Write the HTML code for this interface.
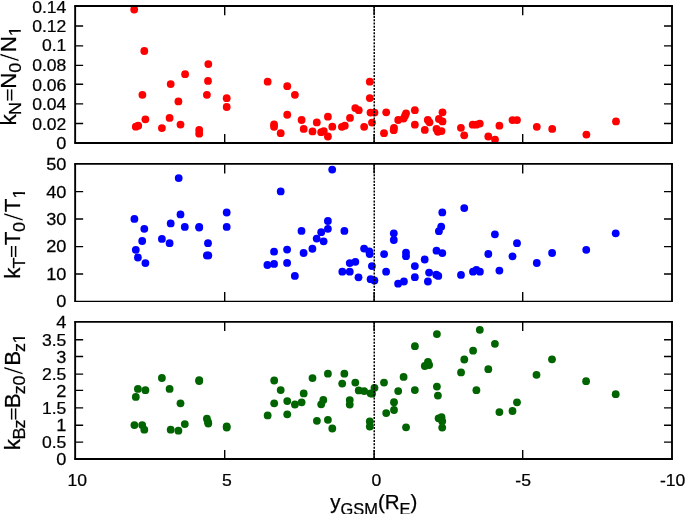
<!DOCTYPE html>
<html><head><meta charset="utf-8"><title>plot</title>
<style>
html,body{margin:0;padding:0;background:#fff;}
body{width:685px;height:514px;overflow:hidden;}
svg{display:block;}
text{font-family:"Liberation Sans",sans-serif;fill:#000;stroke:#000;stroke-width:0.25px;}
</style></head><body>
<svg width="685" height="514" viewBox="0 0 685 514">
<rect width="685" height="514" fill="#fff"/>
<defs><clipPath id="one"><rect x="0" y="-13.76" width="10.32" height="11.24"/><rect x="4.17" y="-2.60" width="1.82" height="2.77"/></clipPath></defs>
<g>
<g fill="#ff0000"><circle cx="134.20" cy="9.50" r="3.90"/><circle cx="144.30" cy="51.00" r="3.90"/><circle cx="208.30" cy="64.10" r="3.90"/><circle cx="185.10" cy="74.20" r="3.90"/><circle cx="208.00" cy="80.90" r="3.90"/><circle cx="170.70" cy="84.10" r="3.90"/><circle cx="142.40" cy="94.80" r="3.90"/><circle cx="206.90" cy="94.80" r="3.90"/><circle cx="226.70" cy="98.20" r="3.90"/><circle cx="178.40" cy="101.40" r="3.90"/><circle cx="226.70" cy="107.00" r="3.90"/><circle cx="145.40" cy="119.30" r="3.90"/><circle cx="169.60" cy="117.90" r="3.90"/><circle cx="180.50" cy="124.60" r="3.90"/><circle cx="161.90" cy="128.10" r="3.90"/><circle cx="135.80" cy="126.70" r="3.90"/><circle cx="138.20" cy="125.70" r="3.90"/><circle cx="199.20" cy="129.90" r="3.90"/><circle cx="199.20" cy="133.70" r="3.90"/><circle cx="267.65" cy="81.65" r="3.90"/><circle cx="287.25" cy="86.20" r="3.90"/><circle cx="294.90" cy="94.85" r="3.90"/><circle cx="287.25" cy="114.75" r="3.90"/><circle cx="274.05" cy="124.40" r="3.90"/><circle cx="274.05" cy="126.80" r="3.90"/><circle cx="280.70" cy="133.20" r="3.90"/><circle cx="301.60" cy="120.00" r="3.90"/><circle cx="303.70" cy="128.95" r="3.90"/><circle cx="312.50" cy="131.40" r="3.90"/><circle cx="316.80" cy="122.40" r="3.90"/><circle cx="327.90" cy="116.70" r="3.90"/><circle cx="321.20" cy="132.20" r="3.90"/><circle cx="323.80" cy="131.10" r="3.90"/><circle cx="327.90" cy="136.50" r="3.90"/><circle cx="332.30" cy="126.70" r="3.90"/><circle cx="341.90" cy="126.80" r="3.90"/><circle cx="344.80" cy="125.70" r="3.90"/><circle cx="350.00" cy="117.90" r="3.90"/><circle cx="355.30" cy="108.10" r="3.90"/><circle cx="358.75" cy="110.20" r="3.90"/><circle cx="364.15" cy="126.80" r="3.90"/><circle cx="369.80" cy="81.65" r="3.90"/><circle cx="369.80" cy="98.10" r="3.90"/><circle cx="370.50" cy="112.60" r="3.90"/><circle cx="374.50" cy="112.60" r="3.90"/><circle cx="372.00" cy="122.60" r="3.90"/><circle cx="386.20" cy="112.30" r="3.90"/><circle cx="384.00" cy="133.20" r="3.90"/><circle cx="394.00" cy="127.80" r="3.90"/><circle cx="393.70" cy="130.20" r="3.90"/><circle cx="398.20" cy="120.00" r="3.90"/><circle cx="406.05" cy="113.30" r="3.90"/><circle cx="405.05" cy="115.70" r="3.90"/><circle cx="403.60" cy="118.60" r="3.90"/><circle cx="414.85" cy="110.20" r="3.90"/><circle cx="414.85" cy="124.70" r="3.90"/><circle cx="427.80" cy="120.00" r="3.90"/><circle cx="429.50" cy="122.30" r="3.90"/><circle cx="424.80" cy="129.90" r="3.90"/><circle cx="442.50" cy="112.30" r="3.90"/><circle cx="438.90" cy="119.00" r="3.90"/><circle cx="442.50" cy="121.40" r="3.90"/><circle cx="436.50" cy="128.90" r="3.90"/><circle cx="437.90" cy="131.80" r="3.90"/><circle cx="441.50" cy="131.10" r="3.90"/><circle cx="460.90" cy="127.80" r="3.90"/><circle cx="464.20" cy="135.30" r="3.90"/><circle cx="472.70" cy="124.70" r="3.90"/><circle cx="476.30" cy="124.70" r="3.90"/><circle cx="479.80" cy="123.55" r="3.90"/><circle cx="488.30" cy="136.50" r="3.90"/><circle cx="495.00" cy="139.60" r="3.90"/><circle cx="499.40" cy="125.70" r="3.90"/><circle cx="512.50" cy="120.10" r="3.90"/><circle cx="517.00" cy="120.10" r="3.90"/><circle cx="536.80" cy="126.80" r="3.90"/><circle cx="552.20" cy="128.95" r="3.90"/><circle cx="586.40" cy="134.60" r="3.90"/><circle cx="616.00" cy="121.40" r="3.90"/></g>
<line x1="374.25" y1="6.05" x2="374.25" y2="143.10" stroke="#000" stroke-width="1.5" stroke-dasharray="2 1.28"/>
<path d="M75.15 123.50h8.0M672.00 123.50h-8.0M75.15 103.90h8.0M672.00 103.90h-8.0M75.15 84.30h8.0M672.00 84.30h-8.0M75.15 65.40h8.0M672.00 65.40h-8.0M75.15 45.85h8.0M672.00 45.85h-8.0M75.15 26.00h8.0M672.00 26.00h-8.0M224.70 6.05v9.1M224.70 143.10v-9.1M374.10 6.05v9.1M374.10 143.10v-9.1M522.70 6.05v9.1M522.70 143.10v-9.1" stroke="#000" stroke-width="1.40" fill="none"/>
<g stroke="#000" fill="none"><line x1="74.20" y1="5.95" x2="672.95" y2="5.95" stroke-width="1.90"/><line x1="74.20" y1="142.95" x2="672.95" y2="142.95" stroke-width="2.00"/><line x1="75.15" y1="5.95" x2="75.15" y2="142.95" stroke-width="1.9"/><line x1="672.00" y1="5.95" x2="672.00" y2="142.95" stroke-width="1.9"/><line x1="75.15" y1="143.45" x2="672.00" y2="143.45" stroke-width="1.3" stroke-dasharray="1.6 1.6"/></g>
<text transform="translate(66.4 149.25) scale(1.058 1)" font-size="17.2" text-anchor="end">0</text><text transform="translate(66.4 129.90) scale(1.023 1)" font-size="17.2" text-anchor="end">0.02</text><text transform="translate(66.4 110.40) scale(1.023 1)" font-size="17.2" text-anchor="end">0.04</text><text transform="translate(66.4 90.50) scale(1.023 1)" font-size="17.2" text-anchor="end">0.06</text><text transform="translate(66.4 70.60) scale(1.023 1)" font-size="17.2" text-anchor="end">0.08</text><text transform="translate(66.4 51.45) scale(1.023 1)" font-size="17.2" text-anchor="end">0.1</text><text transform="translate(66.4 31.90) scale(1.023 1)" font-size="17.2" text-anchor="end">0.12</text><text transform="translate(66.4 12.75) scale(1.023 1)" font-size="17.2" text-anchor="end">0.14</text>
</g>
<g>
<g fill="#0000ff"><circle cx="178.70" cy="178.10" r="3.90"/><circle cx="134.40" cy="218.90" r="3.90"/><circle cx="144.30" cy="228.80" r="3.90"/><circle cx="142.20" cy="241.00" r="3.90"/><circle cx="135.80" cy="249.80" r="3.90"/><circle cx="137.90" cy="257.50" r="3.90"/><circle cx="145.40" cy="263.10" r="3.90"/><circle cx="161.90" cy="238.90" r="3.90"/><circle cx="169.60" cy="243.20" r="3.90"/><circle cx="170.70" cy="223.40" r="3.90"/><circle cx="180.50" cy="214.40" r="3.90"/><circle cx="184.80" cy="226.90" r="3.90"/><circle cx="199.20" cy="226.80" r="3.90"/><circle cx="199.20" cy="227.60" r="3.90"/><circle cx="208.00" cy="243.20" r="3.90"/><circle cx="206.90" cy="255.40" r="3.90"/><circle cx="208.30" cy="255.40" r="3.90"/><circle cx="226.70" cy="212.50" r="3.90"/><circle cx="226.70" cy="226.90" r="3.90"/><circle cx="332.20" cy="169.60" r="3.90"/><circle cx="280.70" cy="191.45" r="3.90"/><circle cx="327.90" cy="221.00" r="3.90"/><circle cx="327.90" cy="228.80" r="3.90"/><circle cx="321.20" cy="232.20" r="3.90"/><circle cx="301.50" cy="230.90" r="3.90"/><circle cx="344.40" cy="230.90" r="3.90"/><circle cx="316.70" cy="238.60" r="3.90"/><circle cx="323.60" cy="241.30" r="3.90"/><circle cx="312.40" cy="248.75" r="3.90"/><circle cx="303.60" cy="253.00" r="3.90"/><circle cx="287.10" cy="249.55" r="3.90"/><circle cx="274.05" cy="251.70" r="3.90"/><circle cx="287.10" cy="262.90" r="3.90"/><circle cx="274.05" cy="263.90" r="3.90"/><circle cx="267.40" cy="265.00" r="3.90"/><circle cx="294.85" cy="275.90" r="3.90"/><circle cx="342.30" cy="271.70" r="3.90"/><circle cx="349.75" cy="271.70" r="3.90"/><circle cx="349.75" cy="263.10" r="3.90"/><circle cx="355.35" cy="261.80" r="3.90"/><circle cx="358.50" cy="277.30" r="3.90"/><circle cx="364.10" cy="248.60" r="3.90"/><circle cx="369.30" cy="251.40" r="3.90"/><circle cx="369.70" cy="254.10" r="3.90"/><circle cx="371.90" cy="266.10" r="3.90"/><circle cx="370.60" cy="279.20" r="3.90"/><circle cx="374.40" cy="280.50" r="3.90"/><circle cx="384.10" cy="254.10" r="3.90"/><circle cx="386.10" cy="271.70" r="3.90"/><circle cx="393.80" cy="233.30" r="3.90"/><circle cx="393.80" cy="240.00" r="3.90"/><circle cx="406.00" cy="252.60" r="3.90"/><circle cx="406.00" cy="256.20" r="3.90"/><circle cx="398.10" cy="283.70" r="3.90"/><circle cx="403.90" cy="281.50" r="3.90"/><circle cx="414.85" cy="266.10" r="3.90"/><circle cx="414.85" cy="277.20" r="3.90"/><circle cx="424.70" cy="259.50" r="3.90"/><circle cx="429.10" cy="272.60" r="3.90"/><circle cx="427.90" cy="281.50" r="3.90"/><circle cx="436.50" cy="250.70" r="3.90"/><circle cx="442.30" cy="253.10" r="3.90"/><circle cx="436.30" cy="274.70" r="3.90"/><circle cx="438.30" cy="275.90" r="3.90"/><circle cx="442.30" cy="212.40" r="3.90"/><circle cx="441.20" cy="226.70" r="3.90"/><circle cx="438.90" cy="231.20" r="3.90"/><circle cx="464.25" cy="208.05" r="3.90"/><circle cx="461.00" cy="274.90" r="3.90"/><circle cx="473.00" cy="271.70" r="3.90"/><circle cx="476.40" cy="269.80" r="3.90"/><circle cx="479.90" cy="271.70" r="3.90"/><circle cx="488.30" cy="254.00" r="3.90"/><circle cx="494.90" cy="234.35" r="3.90"/><circle cx="499.40" cy="270.60" r="3.90"/><circle cx="512.50" cy="256.30" r="3.90"/><circle cx="517.00" cy="243.20" r="3.90"/><circle cx="536.80" cy="263.00" r="3.90"/><circle cx="552.10" cy="253.00" r="3.90"/><circle cx="586.25" cy="249.80" r="3.90"/><circle cx="615.70" cy="233.30" r="3.90"/></g>
<line x1="374.25" y1="164.30" x2="374.25" y2="301.00" stroke="#000" stroke-width="1.5" stroke-dasharray="2 1.28"/>
<path d="M75.15 273.95h8.0M672.00 273.95h-8.0M75.15 246.60h8.0M672.00 246.60h-8.0M75.15 218.98h8.0M672.00 218.98h-8.0M75.15 191.64h8.0M672.00 191.64h-8.0M224.70 164.30v9.1M224.70 301.00v-9.1M374.10 164.30v9.1M374.10 301.00v-9.1M522.70 164.30v9.1M522.70 301.00v-9.1" stroke="#000" stroke-width="1.40" fill="none"/>
<g stroke="#000" fill="none"><line x1="74.20" y1="163.97" x2="672.95" y2="163.97" stroke-width="1.80"/><line x1="74.20" y1="301.30" x2="672.95" y2="301.30" stroke-width="1.35"/><line x1="75.15" y1="163.97" x2="75.15" y2="301.30" stroke-width="1.9"/><line x1="672.00" y1="163.97" x2="672.00" y2="301.30" stroke-width="1.9"/></g>
<text transform="translate(66.4 306.90) scale(1.058 1)" font-size="17.2" text-anchor="end">0</text><text transform="translate(66.4 279.85) scale(1.058 1)" font-size="17.2" text-anchor="end">10</text><text transform="translate(66.4 252.20) scale(1.058 1)" font-size="17.2" text-anchor="end">20</text><text transform="translate(66.4 225.20) scale(1.058 1)" font-size="17.2" text-anchor="end">30</text><text transform="translate(66.4 197.85) scale(1.058 1)" font-size="17.2" text-anchor="end">40</text><text transform="translate(66.4 170.20) scale(1.058 1)" font-size="17.2" text-anchor="end">50</text>
</g>
<g>
<g fill="#006400"><circle cx="161.90" cy="378.00" r="3.90"/><circle cx="199.20" cy="380.20" r="3.90"/><circle cx="199.20" cy="381.00" r="3.90"/><circle cx="137.90" cy="388.90" r="3.90"/><circle cx="145.40" cy="390.20" r="3.90"/><circle cx="169.60" cy="388.90" r="3.90"/><circle cx="135.80" cy="396.90" r="3.90"/><circle cx="180.50" cy="403.30" r="3.90"/><circle cx="134.40" cy="425.10" r="3.90"/><circle cx="142.20" cy="425.10" r="3.90"/><circle cx="144.30" cy="429.70" r="3.90"/><circle cx="170.70" cy="429.70" r="3.90"/><circle cx="178.40" cy="430.70" r="3.90"/><circle cx="184.80" cy="424.10" r="3.90"/><circle cx="206.90" cy="418.75" r="3.90"/><circle cx="208.00" cy="421.90" r="3.90"/><circle cx="208.30" cy="423.50" r="3.90"/><circle cx="226.70" cy="426.50" r="3.90"/><circle cx="226.70" cy="427.50" r="3.90"/><circle cx="274.20" cy="380.50" r="3.90"/><circle cx="280.70" cy="390.10" r="3.90"/><circle cx="274.20" cy="403.30" r="3.90"/><circle cx="267.65" cy="415.40" r="3.90"/><circle cx="287.25" cy="401.10" r="3.90"/><circle cx="287.25" cy="414.30" r="3.90"/><circle cx="294.90" cy="404.50" r="3.90"/><circle cx="301.60" cy="402.30" r="3.90"/><circle cx="303.70" cy="393.40" r="3.90"/><circle cx="312.50" cy="378.05" r="3.90"/><circle cx="327.90" cy="373.65" r="3.90"/><circle cx="344.35" cy="373.65" r="3.90"/><circle cx="342.20" cy="383.60" r="3.90"/><circle cx="323.30" cy="399.90" r="3.90"/><circle cx="321.20" cy="404.30" r="3.90"/><circle cx="349.75" cy="400.10" r="3.90"/><circle cx="349.75" cy="404.60" r="3.90"/><circle cx="316.90" cy="420.80" r="3.90"/><circle cx="327.90" cy="419.80" r="3.90"/><circle cx="332.30" cy="428.50" r="3.90"/><circle cx="355.30" cy="382.60" r="3.90"/><circle cx="358.75" cy="390.40" r="3.90"/><circle cx="364.15" cy="391.10" r="3.90"/><circle cx="374.50" cy="387.85" r="3.90"/><circle cx="370.50" cy="393.30" r="3.90"/><circle cx="372.00" cy="393.70" r="3.90"/><circle cx="369.80" cy="421.40" r="3.90"/><circle cx="369.80" cy="426.60" r="3.90"/><circle cx="384.00" cy="382.60" r="3.90"/><circle cx="403.60" cy="376.90" r="3.90"/><circle cx="398.20" cy="391.10" r="3.90"/><circle cx="414.85" cy="390.10" r="3.90"/><circle cx="394.00" cy="402.20" r="3.90"/><circle cx="394.00" cy="410.00" r="3.90"/><circle cx="386.20" cy="413.10" r="3.90"/><circle cx="406.05" cy="427.30" r="3.90"/><circle cx="436.90" cy="334.10" r="3.90"/><circle cx="414.90" cy="346.15" r="3.90"/><circle cx="479.80" cy="329.80" r="3.90"/><circle cx="473.10" cy="350.70" r="3.90"/><circle cx="464.30" cy="359.50" r="3.90"/><circle cx="427.95" cy="361.80" r="3.90"/><circle cx="424.80" cy="366.00" r="3.90"/><circle cx="429.10" cy="365.00" r="3.90"/><circle cx="461.05" cy="372.40" r="3.90"/><circle cx="488.30" cy="369.20" r="3.90"/><circle cx="436.90" cy="386.60" r="3.90"/><circle cx="437.90" cy="395.60" r="3.90"/><circle cx="476.40" cy="390.20" r="3.90"/><circle cx="438.60" cy="418.35" r="3.90"/><circle cx="441.50" cy="417.20" r="3.90"/><circle cx="442.20" cy="421.20" r="3.90"/><circle cx="442.20" cy="427.60" r="3.90"/><circle cx="499.40" cy="412.10" r="3.90"/><circle cx="512.50" cy="411.00" r="3.90"/><circle cx="517.00" cy="402.30" r="3.90"/><circle cx="494.90" cy="343.85" r="3.90"/><circle cx="552.00" cy="359.30" r="3.90"/><circle cx="536.50" cy="374.80" r="3.90"/><circle cx="586.10" cy="381.20" r="3.90"/><circle cx="615.70" cy="394.20" r="3.90"/></g>
<line x1="374.25" y1="322.00" x2="374.25" y2="459.20" stroke="#000" stroke-width="1.5" stroke-dasharray="2 1.28"/>
<path d="M75.15 442.15h8.0M672.00 442.15h-8.0M75.15 425.20h8.0M672.00 425.20h-8.0M75.15 407.90h8.0M672.00 407.90h-8.0M75.15 390.35h8.0M672.00 390.35h-8.0M75.15 374.10h8.0M672.00 374.10h-8.0M75.15 356.50h8.0M672.00 356.50h-8.0M75.15 339.80h8.0M672.00 339.80h-8.0M224.70 322.00v9.1M224.70 459.20v-9.1M374.10 322.00v9.1M374.10 459.20v-9.1M522.70 322.00v9.1M522.70 459.20v-9.1" stroke="#000" stroke-width="1.40" fill="none"/>
<g stroke="#000" fill="none"><line x1="74.20" y1="321.90" x2="672.95" y2="321.90" stroke-width="1.90"/><line x1="74.20" y1="458.95" x2="672.95" y2="458.95" stroke-width="2.00"/><line x1="75.15" y1="321.90" x2="75.15" y2="458.95" stroke-width="1.9"/><line x1="672.00" y1="321.90" x2="672.00" y2="458.95" stroke-width="1.9"/><line x1="75.15" y1="459.45" x2="672.00" y2="459.45" stroke-width="1.3" stroke-dasharray="1.6 1.6"/></g>
<text transform="translate(66.4 465.10) scale(1.058 1)" font-size="17.2" text-anchor="end">0</text><text transform="translate(66.4 448.35) scale(1.023 1)" font-size="17.2" text-anchor="end">0.5</text><text transform="translate(66.4 431.10) scale(1.058 1)" font-size="17.2" text-anchor="end">1</text><text transform="translate(66.4 413.80) scale(1.023 1)" font-size="17.2" text-anchor="end">1.5</text><text transform="translate(66.4 396.60) scale(1.058 1)" font-size="17.2" text-anchor="end">2</text><text transform="translate(66.4 380.00) scale(1.023 1)" font-size="17.2" text-anchor="end">2.5</text><text transform="translate(66.4 362.70) scale(1.058 1)" font-size="17.2" text-anchor="end">3</text><text transform="translate(66.4 345.70) scale(1.023 1)" font-size="17.2" text-anchor="end">3.5</text><text transform="translate(66.4 327.90) scale(1.058 1)" font-size="17.2" text-anchor="end">4</text>
</g>
<text transform="translate(77.20 486.1) scale(1.023 1)" font-size="17.2" text-anchor="middle">10</text><text transform="translate(226.85 486.1) scale(1.023 1)" font-size="17.2" text-anchor="middle">5</text><text transform="translate(376.30 486.1) scale(1.023 1)" font-size="17.2" text-anchor="middle">0</text><text transform="translate(523.10 486.1) scale(1.023 1)" font-size="17.2" text-anchor="middle">-5</text><text transform="translate(672.60 486.1) scale(1.023 1)" font-size="17.2" text-anchor="middle">-10</text>
<g transform="translate(15.70 0) rotate(-90)"><text transform="translate(-125.59 0.00) scale(1.050 1.00)" font-size="21.3">k</text><text transform="translate(-114.90 4.85) scale(1.050 1.00)" font-size="17.2">N</text><text transform="translate(-101.57 -0.84) scale(1.050 0.80)" font-size="21.3">=</text><text transform="translate(-88.73 0.00) scale(1.050 1.00)" font-size="21.3">N</text><text transform="translate(-72.72 4.85) scale(1.050 1.00)" font-size="17.2">0</text><text transform="translate(-61.80 2.85) scale(1.200 1.00)" font-size="25.8" style="stroke:#fff;stroke-width:0.7px">/</text><text transform="translate(-52.31 0.00) scale(1.050 1.00)" font-size="21.3">N</text><text transform="translate(-36.19 4.85) scale(1.050 1.00)" font-size="17.2" clip-path="url(#one)">1</text></g>
<g transform="translate(20.00 0) rotate(-90)"><text transform="translate(-278.74 0.00) scale(1.050 1.00)" font-size="21.3">k</text><text transform="translate(-268.41 4.85) scale(1.050 1.00)" font-size="17.2">T</text><text transform="translate(-258.02 -0.84) scale(1.050 0.80)" font-size="21.3">=</text><text transform="translate(-245.33 0.00) scale(1.050 1.00)" font-size="21.3">T</text><text transform="translate(-231.92 4.85) scale(1.050 1.00)" font-size="17.2">0</text><text transform="translate(-221.28 2.85) scale(1.200 1.00)" font-size="25.8" style="stroke:#fff;stroke-width:0.7px">/</text><text transform="translate(-212.13 0.00) scale(1.050 1.00)" font-size="21.3">T</text><text transform="translate(-198.51 4.85) scale(1.050 1.00)" font-size="17.2" clip-path="url(#one)">1</text></g>
<g transform="translate(20.00 0) rotate(-90)"><text transform="translate(-450.36 0.00) scale(1.050 1.00)" font-size="21.3">k</text><text transform="translate(-439.59 4.85) scale(1.050 1.00)" font-size="17.2">B</text><text transform="translate(-428.58 4.85) scale(1.050 1.00)" font-size="17.2">z</text><text transform="translate(-420.42 -0.84) scale(1.050 0.80)" font-size="21.3">=</text><text transform="translate(-408.14 0.00) scale(1.050 1.00)" font-size="21.3">B</text><text transform="translate(-394.13 4.85) scale(1.050 1.00)" font-size="17.2">z</text><text transform="translate(-385.52 4.85) scale(1.050 1.00)" font-size="17.2">0</text><text transform="translate(-374.88 2.85) scale(1.200 1.00)" font-size="25.8" style="stroke:#fff;stroke-width:0.7px">/</text><text transform="translate(-365.69 0.00) scale(1.050 1.00)" font-size="21.3">B</text><text transform="translate(-351.93 4.85) scale(1.050 1.00)" font-size="17.2">z</text><text transform="translate(-343.49 4.85) scale(1.050 1.00)" font-size="17.2" clip-path="url(#one)">1</text></g>
<text x="373.8" y="509.3" font-size="20.5" text-anchor="middle">y<tspan dy="5.3" font-size="16.4">GSM</tspan><tspan dy="-5.3">(R</tspan><tspan dy="5.3" font-size="16.4">E</tspan><tspan dy="-5.3">)</tspan></text>
</svg>
</body></html>
